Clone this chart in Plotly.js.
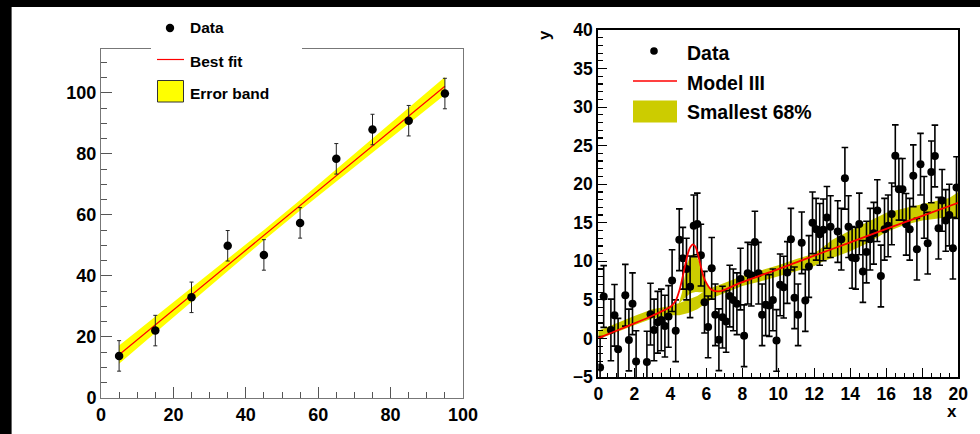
<!DOCTYPE html>
<html><head><meta charset="utf-8">
<script src="https://cdn.plot.ly/plotly-3.0.1.min.js"></script>
<style>html,body{margin:0;padding:0;background:#000;overflow:hidden}#chart{width:980px;height:434px}</style>
</head><body><div id="chart"></div>
<script>
// ---------- Left panel: straight-line fit ----------
const leftX = [5, 15, 25, 35, 45, 55, 65, 75, 85, 95];
const leftY = [13.8, 22.1, 33.0, 49.9, 46.9, 57.4, 78.4, 88.0, 90.9, 99.8];
const leftErr = [5, 5, 5, 5, 5, 5, 5, 5, 5, 5];
const bestFitX = [5, 95];
const bestFitY = [14.2, 102.2];
const errBandX = [5, 15, 25, 35, 45, 55, 65, 75, 85, 95];
const errBandUpper = [17.2, 26.6, 36.0, 45.5, 55.1, 64.9, 74.9, 85.0, 95.2, 105.2];
const errBandLower = [11.2, 21.4, 31.6, 41.7, 51.7, 61.5, 71.1, 80.6, 90.0, 99.4];
const leftLegend = ["Data", "Best fit", "Error band"];

// ---------- Right panel: Model III ----------
const dataX = [0.1,0.3,0.7,0.9,1.1,1.5,1.7,1.9,2.1,2.7,2.9,3.1,3.3,3.5,3.7,3.9,4.1,4.3,4.5,4.7,
  4.9,5.1,5.3,5.5,5.7,5.9,6.1,6.3,6.5,6.7,6.9,7.1,7.3,7.5,7.7,7.9,8.1,8.3,8.5,8.7,
  8.9,9.1,9.3,9.5,9.7,9.9,10.1,10.3,10.5,10.7,10.9,11.1,11.3,11.5,11.7,11.9,12.1,12.3,12.5,12.7,
  12.9,13.3,13.5,13.7,13.9,14.1,14.3,14.5,14.7,14.9,15.1,15.3,15.5,15.7,15.9,16.1,16.3,16.5,16.7,16.9,
  17.1,17.3,17.5,17.7,17.9,18.1,18.3,18.5,18.7,18.9,19.1,19.3,19.5,19.7,19.9];
const dataY = [-3.76,5.44,1.1,3.0,-1.4,5.6,-0.2,4.5,-3.0,-3.07,3.15,1.1,2.1,2.4,1.6,2.85,7.5,1.0,12.8,10.4,
  9.0,6.7,14.6,14.85,10.8,4.7,1.5,9.1,3.07,-0.17,2.76,2.2,5.5,5.0,4.5,7.7,0.35,8.46,8.2,12.5,
  8.46,3.07,4.36,4.27,5.0,-0.26,6.95,6.65,8.55,12.87,5.27,3.07,12.4,4.92,9.33,15.0,14.16,13.5,14.08,15.7,
  14.5,13.86,12.87,20.77,14.5,10.5,10.4,14.85,8.68,11.2,12.87,13.64,16.58,8.1,14.16,14.6,16.15,23.7,19.34,19.34,
  14.8,14.16,21.1,11.57,22.6,17.0,12.35,21.6,23.66,14.3,17.9,15.3,16.0,11.7,19.56];
const dataErr = dataX.map(() => 4);
const modelX = [0,1,2,3,3.5,3.9,4.1,4.3,4.5,4.65,4.8,4.95,5.1,5.25,5.4,5.55,5.7,5.85,6.0,6.2,6.4,6.6,6.8,7,8,10,12,14,16,18,20];
const modelY = [0.05,1.0,1.95,2.95,3.5,3.95,4.3,4.9,6.2,7.6,9.2,10.8,11.8,12.2,11.9,10.8,9.3,8.0,7.2,6.5,6.2,6.1,6.15,6.3,7.3,9.0,10.75,12.45,14.2,15.9,17.6];
const smallX = [0,1,2,3,4,4.5,5,5.5,6,6.5,7,8,9,10,11,12,12.5,13,14,15,16,17,18,19,19.5,20];
const smallLo = [-0.1,0.8,1.7,2.6,3.0,3.0,3.3,3.8,4.6,5.4,5.9,6.8,7.4,8.0,8.7,9.4,10.0,10.5,11.3,12.4,13.8,14.7,15.3,15.6,15.7,15.6];
const smallHi = [1.0,2.0,2.9,3.8,4.2,4.6,5.0,5.5,6.3,6.8,7.2,8.1,8.8,9.5,10.3,11.0,11.9,12.8,14.0,15.2,16.3,16.9,17.4,17.9,18.2,19.0];
const blobX = [4.5,4.65,4.8,4.95,5.1,5.25,5.4,5.55,5.7,5.85,6.0,6.15,6.35,6.1,5.85,5.6,5.35,5.1,4.85,4.6,4.5];
const blobY = [4.6,6.0,8.0,9.7,10.6,10.9,10.8,10.2,9.2,8.1,7.2,6.6,6.5,6.2,6.0,6.0,6.0,5.8,5.3,4.8,4.6];
const rightLegend = ["Data", "Model III", "Smallest 68%"];

const W = 980, H = 434;
const fx = x => x / W, fy = y => 1 - y / H;
const FONT = 'Liberation Sans, Arial, Helvetica, sans-serif';

const traces = [
  { x: errBandX.concat(errBandX.slice().reverse()), y: errBandUpper.concat(errBandLower.slice().reverse()),
    fill: 'toself', fillcolor: '#ffff00', mode: 'lines', line: {width: 0}, xaxis: 'x', yaxis: 'y', hoverinfo: 'skip' },
  { x: bestFitX, y: bestFitY, mode: 'lines', line: {color: '#ff0000', width: 1.2}, xaxis: 'x', yaxis: 'y' },
  { x: leftX, y: leftY, mode: 'markers', marker: {color: '#000', size: 8.5},
    error_y: {type: 'data', array: leftErr, visible: true, color: '#222', thickness: 1, width: 2},
    xaxis: 'x', yaxis: 'y' },
  { x: smallX.concat(smallX.slice().reverse()), y: smallHi.concat(smallLo.slice().reverse()),
    fill: 'toself', fillcolor: '#cccc00', mode: 'lines', line: {width: 0}, xaxis: 'x2', yaxis: 'y2', hoverinfo: 'skip' },
  { x: blobX, y: blobY, fill: 'toself', fillcolor: '#cccc00', mode: 'lines', line: {width: 0, shape: 'spline'},
    xaxis: 'x2', yaxis: 'y2', hoverinfo: 'skip' },
  { x: dataX, y: dataY, mode: 'markers', marker: {color: '#000', size: 8},
    error_y: {type: 'data', array: dataErr, visible: true, color: '#000', thickness: 1.6, width: 3.3},
    xaxis: 'x2', yaxis: 'y2' },
  { x: modelX, y: modelY, mode: 'lines', line: {color: '#ff0000', width: 1.8, shape: 'spline', smoothing: 0.6},
    xaxis: 'x2', yaxis: 'y2' }
];

function axis(opts) {
  return Object.assign({
    ticks: 'inside', showgrid: false, zeroline: false, showline: true, mirror: true,
    tickfont: {family: FONT, size: 18, color: '#000', weight: 700}, fixedrange: true
  }, opts);
}

const layout = {
  width: W, height: H, autosize: false, showlegend: false,
  margin: {l: 0, r: 0, t: 0, b: 0, pad: 0},
  paper_bgcolor: '#000', plot_bgcolor: '#fff',
  xaxis: axis({domain: [fx(101), fx(463)], range: [0, 100], dtick: 20, anchor: 'y',
    ticklen: 11, tickcolor: '#555', linecolor: '#777', linewidth: 1,
    minor: {dtick: 5, ticklen: 6, ticks: 'inside', tickcolor: '#555', showgrid: false}}),
  yaxis: axis({domain: [fy(398), fy(49)], range: [0, 114.4], dtick: 20, anchor: 'x',
    ticklen: 11, tickcolor: '#555', linecolor: '#777', linewidth: 1,
    minor: {dtick: 5, ticklen: 6, ticks: 'inside', tickcolor: '#555', showgrid: false}}),
  xaxis2: axis({domain: [fx(598.3), fx(958.3)], range: [0, 20], dtick: 2, anchor: 'y2',
    ticklen: 9, tickcolor: '#000', tickwidth: 1.2, linecolor: '#000', linewidth: 2,
    tickfont: {family: FONT, size: 17.5, color: '#000', weight: 700},
    minor: {dtick: 0.5, ticklen: 4.5, ticks: 'inside', tickcolor: '#000', tickwidth: 1.2, showgrid: false}}),
  yaxis2: axis({domain: [fy(377), fy(30)], range: [-5, 40], dtick: 5, anchor: 'x2',
    ticklen: 9, tickcolor: '#000', tickwidth: 1.2, linecolor: '#000', linewidth: 2,
    tickfont: {family: FONT, size: 17.5, color: '#000', weight: 700},
    minor: {dtick: 1, ticklen: 4.5, ticks: 'inside', tickcolor: '#000', tickwidth: 1.2, showgrid: false}}),
  shapes: [
    {type: 'rect', xref: 'paper', yref: 'paper', x0: fx(11), x1: 1, y0: 0, y1: fy(7),
      fillcolor: '#fff', line: {width: 0}, layer: 'below'},
    {type: 'line', xref: 'paper', yref: 'paper', x0: fx(11.5), x1: fx(11.5), y0: 0, y1: fy(7),
      line: {color: '#666', width: 1}, layer: 'above'},
    {type: 'rect', xref: 'paper', yref: 'paper', x0: fx(151), x1: fx(302), y0: fy(56), y1: fy(40),
      fillcolor: '#fff', line: {width: 0}, layer: 'above'},
    {type: 'circle', xref: 'paper', yref: 'paper', xsizemode: 'pixel', ysizemode: 'pixel',
      xanchor: fx(170), yanchor: fy(28), x0: -4.2, x1: 4.2, y0: -4.2, y1: 4.2,
      fillcolor: '#000', line: {width: 0}, layer: 'above'},
    {type: 'line', xref: 'paper', yref: 'paper', x0: fx(157), x1: fx(184), y0: fy(59.5), y1: fy(59.5),
      line: {color: '#ff0000', width: 1.2}, layer: 'above'},
    {type: 'rect', xref: 'paper', yref: 'paper', x0: fx(157.5), x1: fx(183.5), y0: fy(102), y1: fy(80.5),
      fillcolor: '#ffff00', line: {color: '#333', width: 1}, layer: 'above'},
    {type: 'circle', xref: 'paper', yref: 'paper', xsizemode: 'pixel', ysizemode: 'pixel',
      xanchor: fx(654), yanchor: fy(51), x0: -3.8, x1: 3.8, y0: -3.8, y1: 3.8,
      fillcolor: '#000', line: {width: 0}, layer: 'above'},
    {type: 'line', xref: 'paper', yref: 'paper', x0: fx(633), x1: fx(677), y0: fy(81), y1: fy(81),
      line: {color: '#ff0000', width: 1.6}, layer: 'above'},
    {type: 'rect', xref: 'paper', yref: 'paper', x0: fx(633), x1: fx(677), y0: fy(122.5), y1: fy(100.5),
      fillcolor: '#cccc00', line: {width: 0}, layer: 'above'}
  ],
  annotations: []
};

const leftFont = {family: FONT, size: 15.5, color: '#000', weight: 700};
const leftYs = [28, 61, 93];
leftLegend.forEach((t, i) => layout.annotations.push({text: t, xref: 'paper', yref: 'paper',
  x: fx(188), y: fy(leftYs[i]), xanchor: 'left', yanchor: 'middle', showarrow: false, font: leftFont}));
const rightFont = {family: FONT, size: 19.5, color: '#000', weight: 700};
const rightYs = [52.5, 83, 112.5];
rightLegend.forEach((t, i) => layout.annotations.push({text: t, xref: 'paper', yref: 'paper',
  x: fx(685), y: fy(rightYs[i]), xanchor: 'left', yanchor: 'middle', showarrow: false, font: rightFont}));
layout.annotations.push({text: 'y', xref: 'paper', yref: 'paper', x: fx(544), y: fy(35), textangle: -90,
  xanchor: 'center', yanchor: 'middle', showarrow: false, font: {family: FONT, size: 17, color: '#000', weight: 700}});
layout.annotations.push({text: 'x', xref: 'paper', yref: 'paper', x: fx(952), y: fy(411),
  xanchor: 'center', yanchor: 'middle', showarrow: false, font: {family: FONT, size: 17, color: '#000', weight: 700}});

Plotly.newPlot('chart', traces, layout, {staticPlot: true, displayModeBar: false});
</script></body></html>
